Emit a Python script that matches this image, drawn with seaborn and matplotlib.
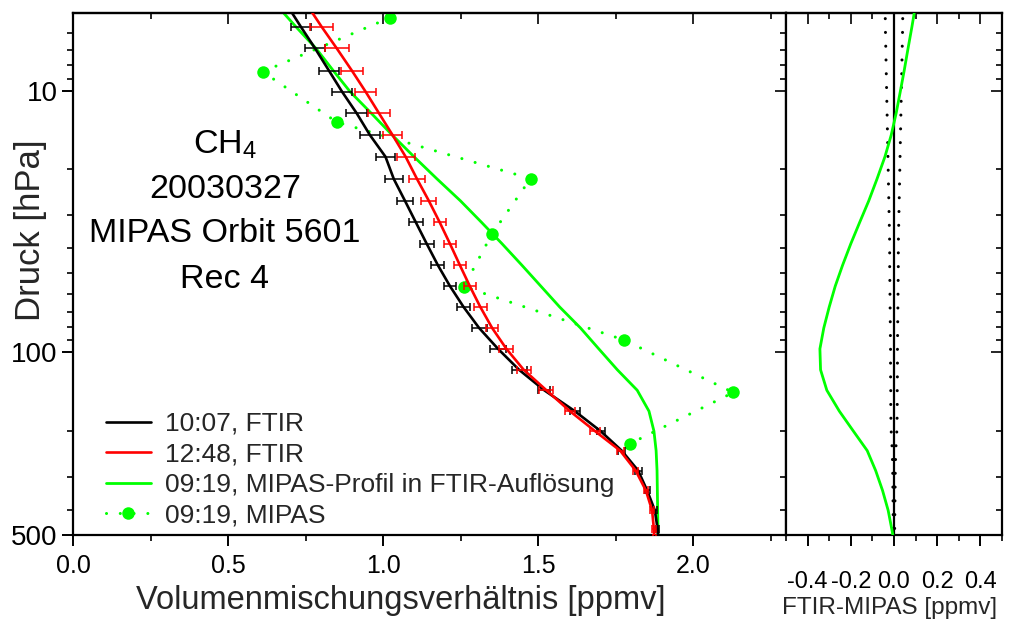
import matplotlib
matplotlib.use("Agg")
import matplotlib.pyplot as plt
from matplotlib.ticker import FixedLocator, FixedFormatter, NullFormatter
import seaborn as sns

sns.set_style("ticks")
plt.rcParams["font.family"] = ["Liberation Sans", "DejaVu Sans"]
plt.rcParams["mathtext.fontset"] = "custom"
plt.rcParams["mathtext.rm"] = "Liberation Sans"
plt.rcParams["mathtext.it"] = "Liberation Sans:italic"

# FTIR retrieval grid [hPa]
pressure = [4.7, 5.7, 6.9, 8.4, 10.1, 12.2, 14.8, 17.9, 21.8, 26.4, 31.9, 38.5,
            46.5, 55.9, 67.2, 80.8, 97.1, 116.8, 139.8, 168.1, 200.4, 237.9,
            283.5, 337.9, 402.7, 475.9, 513.0]

# CH4 profile 10:07 FTIR [ppmv] and its error
ftir_1007 = [0.690, 0.735, 0.781, 0.826, 0.868, 0.915, 0.958, 1.008, 1.035, 1.071,
             1.106, 1.141, 1.177, 1.216, 1.260, 1.310, 1.371, 1.439, 1.520, 1.619,
             1.702, 1.770, 1.823, 1.852, 1.877, 1.886, 1.888]
ftir_1007_err = [0.032, 0.032, 0.032, 0.033, 0.033, 0.034, 0.032, 0.031, 0.028, 0.027,
                 0.023, 0.022, 0.021, 0.020, 0.022, 0.024, 0.026, 0.024, 0.020, 0.016,
                 0.013, 0.011, 0.011, 0.008, 0.0065, 0.0054, 0.005]

# CH4 profile 12:48 FTIR [ppmv] and its error
ftir_1248 = [0.755, 0.802, 0.851, 0.900, 0.944, 0.987, 1.031, 1.073, 1.110, 1.148,
             1.183, 1.216, 1.248, 1.280, 1.314, 1.352, 1.398, 1.454, 1.527, 1.603,
             1.684, 1.765, 1.815, 1.848, 1.868, 1.874, 1.875]
ftir_1248_err = [0.038, 0.038, 0.038, 0.037, 0.035, 0.035, 0.031, 0.029, 0.025, 0.024,
                 0.020, 0.019, 0.019, 0.020, 0.020, 0.020, 0.0226, 0.0226, 0.0226, 0.016,
                 0.016, 0.011, 0.008, 0.0065, 0.0065, 0.0054, 0.005]

# MIPAS 09:19 profile smoothed to FTIR resolution [ppmv]
mipas_smoothed = [0.656, 0.719, 0.784, 0.840, 0.894, 0.962, 1.030, 1.100, 1.175, 1.250,
                  1.318, 1.384, 1.448, 1.509, 1.570, 1.637, 1.696, 1.756, 1.820, 1.858,
                  1.874, 1.881, 1.884, 1.885, 1.886, 1.887, 1.887]

# MIPAS 09:19, orbit 5601, record 4
mipas_pressure = [5.26, 8.47, 13.2, 21.7, 35.4, 56.2, 89.7, 142.6, 223.7]
mipas_vmr = [1.023, 0.612, 0.851, 1.476, 1.351, 1.261, 1.776, 2.130, 1.797]

# FTIR - MIPAS difference [ppmv] and its uncertainty
diff_ftir_mipas = [0.100, 0.083, 0.065, 0.047, 0.029, 0.010, -0.013, -0.042, -0.079, -0.117,
                   -0.159, -0.200, -0.238, -0.272, -0.300, -0.325, -0.343, -0.340, -0.311,
                   -0.253, -0.188, -0.124, -0.085, -0.053, -0.027, -0.010, -0.003]
diff_err = [0.041, 0.040, 0.038, 0.036, 0.034, 0.032, 0.030, 0.028, 0.026, 0.024,
            0.022, 0.020, 0.020, 0.019, 0.018, 0.017, 0.016, 0.016, 0.015, 0.015,
            0.013, 0.008, 0.006, 0.005, 0.004, 0.003, 0.003]
diff_lower = [-e for e in diff_err]

x_major = [0.0, 0.5, 1.0, 1.5, 2.0]
x_minor = [0.25, 0.75, 1.25, 1.75, 2.25]
x_labels = ["0.0", "0.5", "1.0", "1.5", "2.0"]
d_major = [-0.4, -0.2, 0.0, 0.2, 0.4]
d_minor = [-0.5, -0.3, -0.1, 0.1, 0.3, 0.5]
d_labels = ["-0.4", "-0.2", "0.0", "0.2", "0.4"]
p_major = [10, 100, 500]
p_minor = [6, 7, 8, 9, 20, 30, 40, 50, 60, 70, 80, 90, 200, 300, 400]
p_labels = ["10", "100", "500"]

GREEN = "#00ff00"
RED = "#ff0000"
BLACK = "#000000"
dotted = (0, (0.01, 4.5))

W, H = 1014, 624
fig = plt.figure(figsize=(W / 100, H / 100), dpi=100)
ax = fig.add_axes([73 / W, 1 - 535 / H, (786 - 73) / W, (535 - 13) / H])
ax2 = fig.add_axes([786 / W, 1 - 535 / H, (1002 - 786) / W, (535 - 13) / H], sharey=ax)

# main panel: profiles
sns.lineplot(x=ftir_1007, y=pressure, sort=False, estimator=None, orient="y",
             color=BLACK, linewidth=1.9, label="10:07, FTIR", ax=ax, zorder=3)
ax.errorbar(ftir_1007, pressure, xerr=ftir_1007_err, fmt="none", ecolor=BLACK,
            elinewidth=1.1, capsize=3.2, capthick=1.1, zorder=3)
sns.lineplot(x=ftir_1248, y=pressure, sort=False, estimator=None, orient="y",
             color=RED, linewidth=1.9, label="12:48, FTIR", ax=ax, zorder=4)
ax.errorbar(ftir_1248, pressure, xerr=ftir_1248_err, fmt="none", ecolor=RED,
            elinewidth=1.1, capsize=3.2, capthick=1.1, zorder=4)
sns.lineplot(x=mipas_smoothed, y=pressure, sort=False, estimator=None, orient="y",
             color=GREEN, linewidth=2.0, label="09:19, MIPAS-Profil in FTIR-Auflösung",
             ax=ax, zorder=2)
sns.lineplot(x=mipas_vmr, y=mipas_pressure, sort=False, estimator=None, orient="y",
             color=GREEN, linewidth=2.2, linestyle=dotted, dash_capstyle="round",
             marker="o", markersize=9, markeredgewidth=0, markeredgecolor=GREEN,
             label="09:19, MIPAS", ax=ax, zorder=2)

ax.set_yscale("log")
ax.set_ylim(500, 5.05)
ax.set_xlim(0, 2.3)

# difference panel
ax2.axvline(0, color=BLACK, linewidth=1.6, zorder=2)
for env in (diff_lower, diff_err):
    sns.lineplot(x=env, y=pressure, sort=False, estimator=None, orient="y",
                 color=BLACK, linewidth=2.2, linestyle=dotted, dash_capstyle="round",
                 ax=ax2, zorder=2)
sns.lineplot(x=diff_ftir_mipas, y=pressure, sort=False, estimator=None, orient="y",
             color=GREEN, linewidth=2.0, ax=ax2, zorder=3)
ax2.set_xlim(-0.5, 0.5)

for a in (ax, ax2):
    for s in a.spines.values():
        s.set_linewidth(1.6)
        s.set_color(BLACK)
        s.set_visible(True)

# main panel ticks
ax.xaxis.set_major_locator(FixedLocator(x_major))
ax.xaxis.set_major_formatter(FixedFormatter(x_labels))
ax.xaxis.set_minor_locator(FixedLocator(x_minor))
ax.yaxis.set_major_locator(FixedLocator(p_major))
ax.yaxis.set_major_formatter(FixedFormatter(p_labels))
ax.yaxis.set_minor_locator(FixedLocator(p_minor))
ax.yaxis.set_minor_formatter(NullFormatter())
ax.tick_params(axis="both", which="major", direction="out", length=8, width=1.4,
               colors=BLACK)
ax.tick_params(axis="both", which="minor", direction="out", length=4.5, width=1.4)
ax.tick_params(axis="x", top=False, bottom=True, labelsize=18, pad=6)
ax.tick_params(axis="y", left=True, right=False, labelsize=20, pad=3)

top = ax.secondary_xaxis("top")
top.xaxis.set_major_locator(FixedLocator(x_major))
top.xaxis.set_minor_locator(FixedLocator(x_minor))
top.tick_params(axis="x", which="major", direction="in", length=8, width=1.4, labeltop=False)
top.tick_params(axis="x", which="minor", direction="in", length=4.5, width=1.4)
top.spines["top"].set_linewidth(1.6)

right = ax.secondary_yaxis("right")
right.yaxis.set_major_locator(FixedLocator(p_major))
right.yaxis.set_minor_locator(FixedLocator(p_minor))
right.yaxis.set_minor_formatter(NullFormatter())
right.tick_params(axis="y", which="major", direction="in", length=8, width=1.4, labelright=False)
right.tick_params(axis="y", which="minor", direction="in", length=4.5, width=1.4)

# difference panel ticks
ax2.xaxis.set_major_locator(FixedLocator(d_major))
ax2.xaxis.set_major_formatter(FixedFormatter(d_labels))
ax2.xaxis.set_minor_locator(FixedLocator(d_minor))
ax2.tick_params(axis="x", which="major", direction="out", length=8, width=1.4,
                labelsize=17, pad=18, colors=BLACK)
ax2.tick_params(axis="x", which="minor", direction="out", length=4.5, width=1.4)
ax2.tick_params(axis="y", which="both", left=False, right=True, labelleft=False,
                direction="in", width=1.4)
ax2.tick_params(axis="y", which="major", length=8)
ax2.tick_params(axis="y", which="minor", length=4.5)
top2 = ax2.secondary_xaxis("top")
top2.xaxis.set_major_locator(FixedLocator(d_major))
top2.xaxis.set_minor_locator(FixedLocator(d_minor))
top2.tick_params(axis="x", which="major", direction="in", length=8, width=1.4, labeltop=False)
top2.tick_params(axis="x", which="minor", direction="in", length=4.5, width=1.4)
top2.spines["top"].set_linewidth(1.6)

# axis titles
ax.set_xlabel("Volumenmischungsverhältnis [ppmv]", fontsize=23.5)
ax.xaxis.set_label_coords(0.46, -0.125)
ax.xaxis.label.set_verticalalignment("center")
ax.set_ylabel("Druck [hPa]", fontsize=25)
ax.yaxis.set_label_coords(-0.0603, 0.584)
ax.yaxis.label.set_verticalalignment("center")
ax2.set_xlabel("FTIR-MIPAS [ppmv]", fontsize=17.5)
ax2.xaxis.set_label_coords(0.48, -0.14)
ax2.xaxis.label.set_verticalalignment("center")
ax2.set_ylabel("")

# species / date / orbit annotation
info_lines = ["CH$_{\\mathrm{4}}$", "20030327", "MIPAS Orbit 5601", "Rec 4"]
info_y = [0.748, 0.662, 0.577, 0.489]
for txt, yy in zip(info_lines, info_y):
    ax.text(0.213, yy, txt, transform=ax.transAxes, ha="center", va="center",
            fontsize=24.5, color=BLACK)

ax.legend(loc="lower left", bbox_to_anchor=(0.031, -0.006), frameon=False,
          fontsize=19, handlelength=1.7, handletextpad=0.55, labelspacing=0.25,
          borderaxespad=0.0)

fig.savefig("out.png", dpi=100)
